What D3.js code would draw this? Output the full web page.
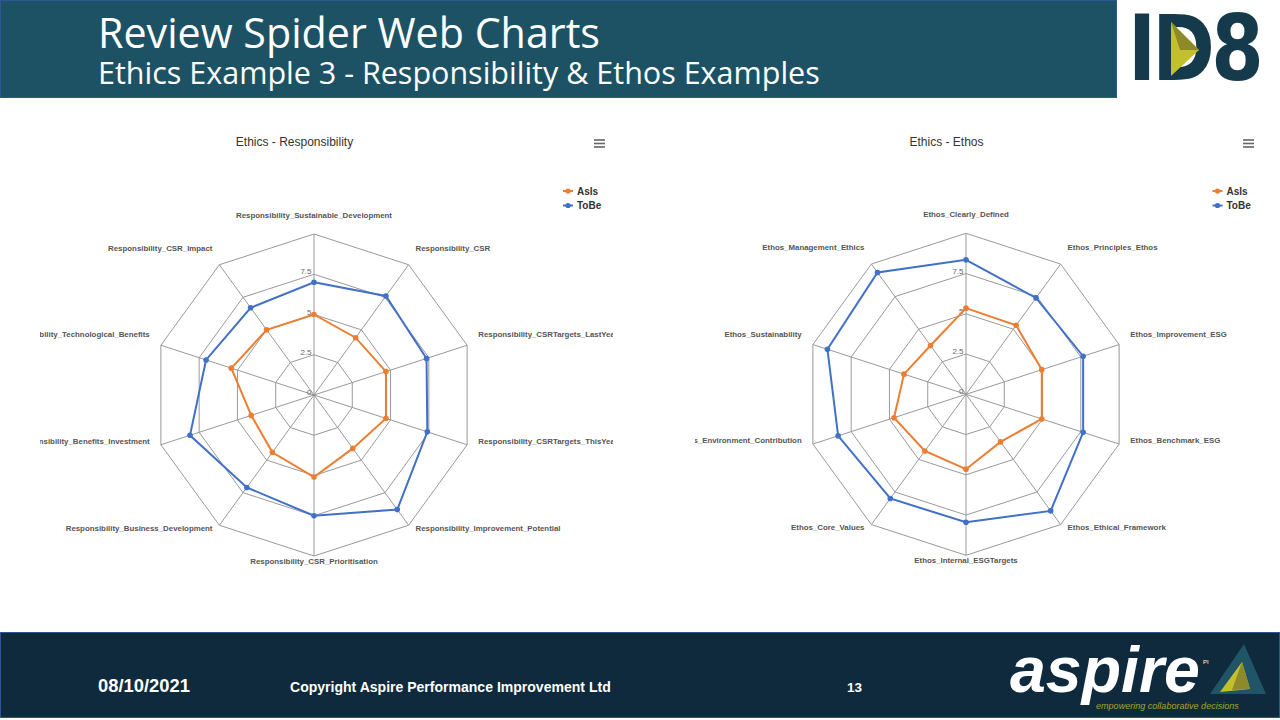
<!DOCTYPE html>
<html><head><meta charset="utf-8">
<script src="https://cdn.jsdelivr.net/npm/d3@7"></script>
<style>body{margin:0;background:#fff;}svg{display:block;}</style>
</head><body>
<svg id="c" width="1280" height="720"></svg>
<script>
// ---------- DATA ----------
const respCategories = [
  "Responsibility_Sustainable_Development","Responsibility_CSR","Responsibility_CSRTargets_LastYear",
  "Responsibility_CSRTargets_ThisYear","Responsibility_Improvement_Potential","Responsibility_CSR_Prioritisation",
  "Responsibility_Business_Development","Responsibility_Benefits_Investment","Responsibility_Technological_Benefits",
  "Responsibility_CSR_Impact"];
const respAsIs = [5.0, 4.4, 4.7, 4.7, 4.1, 5.1, 4.4, 4.1, 5.4, 5.0];
const respToBe = [7.0, 7.6, 7.35, 7.4, 8.8, 7.5, 7.1, 8.1, 7.05, 6.7];

const ethosCategories = [
  "Ethos_Clearly_Defined","Ethos_Principles_Ethos","Ethos_Improvement_ESG","Ethos_Benchmark_ESG",
  "Ethos_Ethical_Framework","Ethos_Internal_ESGTargets","Ethos_Core_Values","Ethos_Environment_Contribution",
  "Ethos_Sustainability","Ethos_Management_Ethics"];
const ethosAsIs = [5.35, 5.3, 4.95, 4.95, 3.65, 4.65, 4.35, 4.7, 4.05, 3.75];
const ethosToBe = [8.35, 7.4, 7.65, 7.65, 8.95, 7.95, 8.0, 8.35, 9.05, 9.35];

const gridValues = [2.5, 5, 7.5, 10];
const tickLabels = ["0", "2.5", "5", "7.5"];
const tickLabelValues = [0, 2.5, 5, 7.5];
const seriesNames = ["AsIs", "ToBe"];

// ---------- STYLE ----------
const COL_ASIS = "#ED7D31", COL_TOBE = "#4170C8";
const svg = d3.select("#c");

function fitFont(sel, target){
  const node = sel.node();
  const fs = parseFloat(sel.attr("font-size"));
  const w = node.getComputedTextLength();
  if (w > 0) sel.attr("font-size", (fs * target / w).toFixed(2));
  return sel;
}

// ---------- HEADER ----------
svg.append("rect").attr("x",0.5).attr("y",0.5).attr("width",1116).attr("height",97)
  .attr("fill","#1c5264").attr("stroke","#2f5597").attr("stroke-width",1);
fitFont(svg.append("text").attr("x",98).attr("y",48).attr("fill","#fff")
  .attr("font-family","Open Sans").attr("font-size",38).text("Review Spider Web Charts"), 502);
fitFont(svg.append("text").attr("x",98).attr("y",84).attr("fill","#fff")
  .attr("font-family","Open Sans").attr("font-size",28).text("Ethics Example 3 - Responsibility & Ethos Examples"), 722);

// ID8 logo
const id8 = svg.append("text").attr("x",0).attr("y",0).attr("fill","#153a4b")
  .attr("font-family","DejaVu Sans Condensed, DejaVu Sans").attr("font-weight","bold")
  .attr("font-size",90).attr("letter-spacing",-4).text("ID8");
{
  const w = id8.node().getComputedTextLength();
  id8.attr("transform", `translate(1128,80) scale(${(132 / w).toFixed(3)},1)`);
}
svg.append("polygon").attr("points","1171,22 1199,50 1171,76").attr("fill","#c4bf2c");
svg.append("polygon").attr("points","1171,22 1199,50 1180,50").attr("fill","#8e8a2c");

// ---------- FOOTER ----------
svg.append("rect").attr("x",0.5).attr("y",632.5).attr("width",1279).attr("height",85)
  .attr("fill","#0e2a3c").attr("stroke","#2f5597").attr("stroke-width",1);
const footFont = "Liberation Sans Narrow, Liberation Sans";
fitFont(svg.append("text").attr("x",98).attr("y",692).attr("fill","#fff").attr("font-weight","bold")
  .attr("font-family",footFont).attr("font-size",14).text("08/10/2021"), 92);
fitFont(svg.append("text").attr("x",290).attr("y",692).attr("fill","#fff").attr("font-weight","bold")
  .attr("font-family",footFont).attr("font-size",14).text("Copyright Aspire Performance Improvement Ltd"), 321);
fitFont(svg.append("text").attr("x",847).attr("y",692).attr("fill","#fff").attr("font-weight","bold")
  .attr("font-family",footFont).attr("font-size",14).text("13"), 15);
// aspire logo
svg.append("polygon").attr("points","1244,644 1210,694 1266,694").attr("fill","#1f5566");
svg.append("polygon").attr("points","1242,662 1220,692 1250,689").attr("fill","#c4bf2c");
svg.append("polygon").attr("points","1242,662 1232,690 1250,689").attr("fill","#8e8a2c");
fitFont(svg.append("text").attr("x",1010).attr("y",692).attr("fill","#fff").attr("font-weight","bold")
  .attr("font-style","italic").attr("font-family","Liberation Sans").attr("font-size",70).text("aspire"), 190);
svg.append("text").attr("x",1203).attr("y",664).attr("fill","#fff").attr("font-family","Liberation Sans")
  .attr("font-size",6).text("PI");
fitFont(svg.append("text").attr("x",1096).attr("y",709).attr("fill","#a9a52c").attr("font-style","italic")
  .attr("font-family","Liberation Sans Narrow, Liberation Sans").attr("font-size",10).text("empowering collaborative decisions"), 143);

// ---------- RADAR CHARTS ----------
const R = 161;
const rScale = d3.scaleLinear().domain([0, 10]).range([0, R]);
let labelFontSize = null;

function radar(cfg){
  const {cx, cy, cats, asis, tobe, title, titleX, clipX0, clipX1, legendX, menuX, id} = cfg;
  const n = cats.length;
  const angle = i => i * 2 * Math.PI / n;
  const clip = svg.append("clipPath").attr("id", "clip" + id);
  clip.append("rect").attr("x", clipX0).attr("y", 100).attr("width", clipX1 - clipX0).attr("height", 530);
  const g = svg.append("g").attr("clip-path", "url(#clip" + id + ")");

  // title
  g.append("text").attr("x", titleX).attr("y", 146).attr("text-anchor","middle")
    .attr("font-family","Liberation Sans").attr("font-size",12).attr("fill","#333").text(title);
  // menu icon
  [0, 3.5, 7].forEach(d => g.append("line").attr("x1", menuX).attr("x2", menuX + 11)
    .attr("y1", 140 + d).attr("y2", 140 + d).attr("stroke","#666").attr("stroke-width",1.6));

  // legend
  [[seriesNames[0], COL_ASIS, 191], [seriesNames[1], COL_TOBE, 205.5]].forEach(([name, col, y]) => {
    g.append("line").attr("x1", legendX).attr("x2", legendX + 10).attr("y1", y).attr("y2", y)
      .attr("stroke", col).attr("stroke-width", 2);
    g.append("circle").attr("cx", legendX + 5).attr("cy", y).attr("r", 2.6).attr("fill", col);
    g.append("text").attr("x", legendX + 14).attr("y", y + 3.6).attr("font-family","Liberation Sans")
      .attr("font-weight","bold").attr("font-size",10).attr("fill","#333").text(name);
  });

  const plot = g.append("g").attr("transform", `translate(${cx},${cy})`);
  // grid rings
  const ringLine = d3.lineRadial().angle((d, i) => angle(i)).radius(d => rScale(d)).curve(d3.curveLinearClosed);
  gridValues.forEach(v => {
    plot.append("path").attr("d", ringLine(cats.map(() => v)))
      .attr("fill","none").attr("stroke","#999").attr("stroke-width",1);
  });
  // spokes
  cats.forEach((c, i) => {
    const a = angle(i);
    plot.append("line").attr("x1",0).attr("y1",0)
      .attr("x2", rScale(10) * Math.sin(a)).attr("y2", -rScale(10) * Math.cos(a))
      .attr("stroke","#999").attr("stroke-width",1);
  });
  // tick labels
  tickLabelValues.forEach((v, k) => {
    plot.append("text").attr("x", -2.5).attr("y", -rScale(v)).attr("text-anchor","end")
      .attr("font-family","Liberation Sans").attr("font-size",8).attr("fill","#666").text(tickLabels[k]);
  });
  // category labels
  cats.forEach((c, i) => {
    const a = angle(i), rr = R + 11.75;
    const x = rr * Math.sin(a), y = -rr * Math.cos(a) - 4.25;
    const anchor = x > 5 ? "start" : (x < -5 ? "end" : "middle");
    const t = plot.append("text").attr("x", x).attr("y", y).attr("text-anchor", anchor)
      .attr("font-family","Liberation Sans").attr("font-weight","bold").attr("font-size",8)
      .attr("fill","#555").text(c);
    if (labelFontSize === null && i === 0) { fitFont(t, 156); labelFontSize = t.attr("font-size"); }
    else t.attr("font-size", labelFontSize);
  });
  // series
  const sLine = d3.lineRadial().angle((d, i) => angle(i)).radius(d => rScale(d)).curve(d3.curveLinearClosed);
  [[asis, COL_ASIS], [tobe, COL_TOBE]].forEach(([vals, col]) => {
    plot.append("path").attr("d", sLine(vals)).attr("fill","none").attr("stroke", col).attr("stroke-width", 2);
    vals.forEach((v, i) => {
      const a = angle(i);
      plot.append("circle").attr("cx", rScale(v) * Math.sin(a)).attr("cy", -rScale(v) * Math.cos(a))
        .attr("r", 2.8).attr("fill", col);
    });
  });
}

radar({id:"L", cx:314, cy:395, cats:respCategories, asis:respAsIs, tobe:respToBe,
  title:"Ethics - Responsibility", titleX:294.5, clipX0:40, clipX1:613, legendX:563, menuX:594});
radar({id:"R", cx:966, cy:394.3, cats:ethosCategories, asis:ethosAsIs, tobe:ethosToBe,
  title:"Ethics - Ethos", titleX:946.5, clipX0:695, clipX1:1270, legendX:1212.5, menuX:1243});
</script>
</body></html>
